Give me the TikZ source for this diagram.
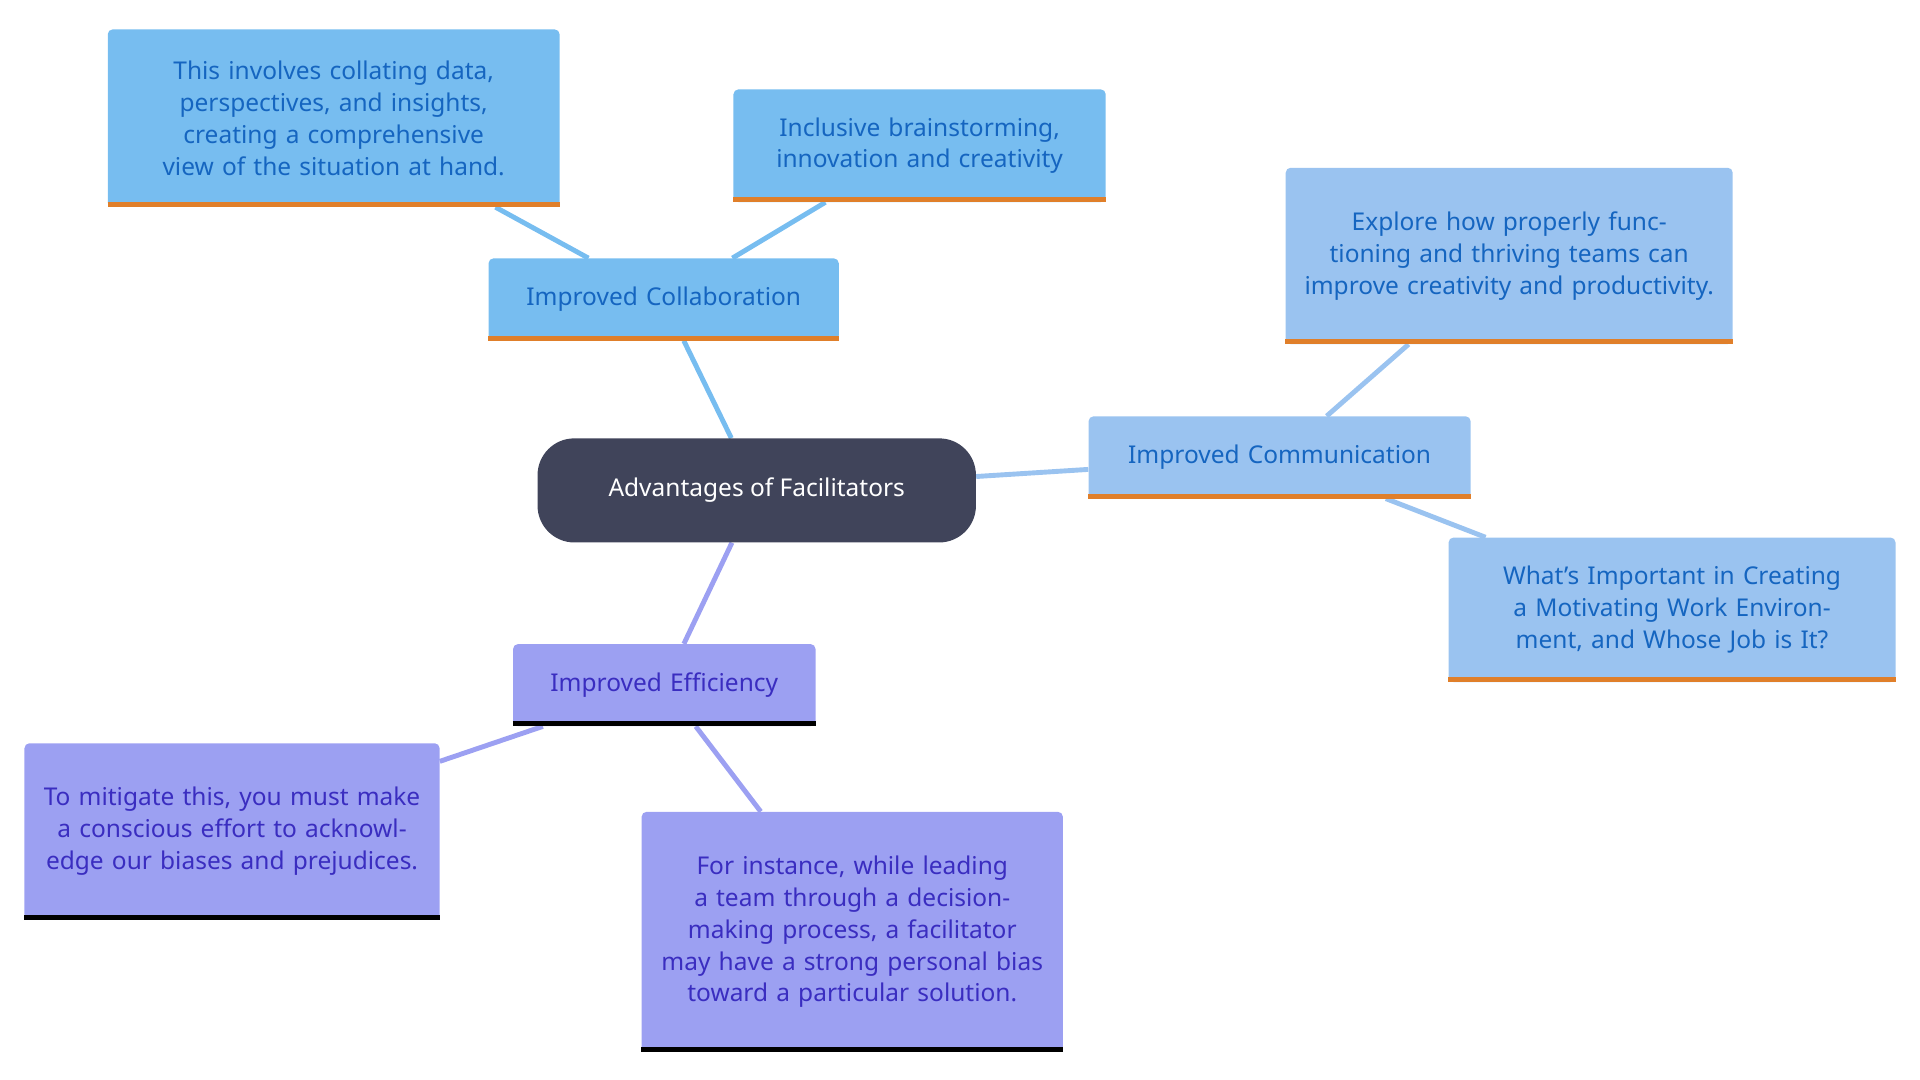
\documentclass[tikz,border=0pt]{standalone}
\usepackage{fontspec}
\setmainfont{Noto Sans}
\usetikzlibrary{backgrounds}
\definecolor{rootc}{HTML}{40445A}
\definecolor{cfill}{HTML}{77BDF0}
\definecolor{mfill}{HTML}{9AC3F0}
\definecolor{efill}{HTML}{9CA0F2}
\definecolor{ctext}{HTML}{1565C0}
\definecolor{etext}{HTML}{3A2DC0}
\definecolor{obar}{HTML}{E07F2A}
\definecolor{ybar}{HTML}{D4D02A}
\tikzset{
 box/.style={rectangle,rounded corners=4pt,inner sep=0pt,align=center,font=\fontsize{20}{26}\selectfont},
 cbox/.style={box,fill=cfill,text=ctext},
 mbox/.style={box,fill=mfill,text=ctext},
 ebox/.style={box,fill=efill,text=etext},
 cedge/.style={draw=cfill,line width=4pt},
 medge/.style={draw=mfill,line width=4pt},
 eedge/.style={draw=efill,line width=4pt},
}
\newcommand{\bx}[7]{%
 \node[#6,minimum width={(#4-#2)*1pt},minimum height={(#5-#3)*1pt},text width={(#4-#2-28)*1pt}] (#1) at ({(#2+#4)/2},{(#3+#5)/2}) {#7};}
\newcommand{\bbar}[2]{\draw[#2,line width=4pt] ([yshift=2pt]#1.south west)--([yshift=2pt]#1.south east);}
\begin{document}
\begin{tikzpicture}[x=1pt,y=-1pt]
\useasboundingbox (0,0) rectangle (1568,882);
\node[rectangle,rounded corners=30pt,fill=rootc,text=white,minimum width=358pt,minimum height=85pt,font=\fontsize{20}{26}\selectfont] (root) at (618,400.5) {Advantages of Facilitators};
\bx{col}{399}{211}{685}{278}{cbox}{Improved Collaboration}
\bx{c1}{88}{24}{457}{169}{cbox}{This involves collating data, perspectives, and insights, creating a comprehensive view of the situation at hand.}
\bx{c2}{599}{73}{903}{165}{cbox}{Inclusive brainstorming, innovation and creativity}
\bx{com}{889}{340}{1201}{407}{mbox}{Improved Communication}
\bx{m1}{1050}{137}{1415}{281}{mbox}{Explore how properly functioning and thriving teams can improve creativity and productivity.}
\bx{m2}{1183}{439}{1548}{557}{mbox}{What's Important in Creating a Motivating Work Environment, and Whose Job is It?}
\bx{eff}{419}{526}{666}{593}{ebox}{Improved Efficiency}
\bx{e1}{20}{607}{359}{751}{ebox}{To mitigate this, you must make a conscious effort to acknowledge our biases and prejudices.}
\bx{e2}{524}{663}{868}{859}{ebox}{For instance, while leading a team through a decision-making process, a facilitator may have a strong personal bias toward a particular solution.}
\foreach \n in {col,c1,c2,com,m1,m2}{\bbar{\n}{obar}}
\foreach \n in {eff,e1,e2}{\bbar{\n}{ybar}}
\begin{scope}[on background layer]
\draw[cedge] (root) -- (col);
\draw[cedge] (col) -- (c1);
\draw[cedge] (col) -- (c2);
\draw[medge] (root) -- (com);
\draw[medge] (com) -- (m1);
\draw[medge] (com) -- (m2);
\draw[eedge] (root) -- (eff);
\draw[eedge] (eff) -- (e1);
\draw[eedge] (eff) -- (e2);
\end{scope}
\end{tikzpicture}
\end{document}
